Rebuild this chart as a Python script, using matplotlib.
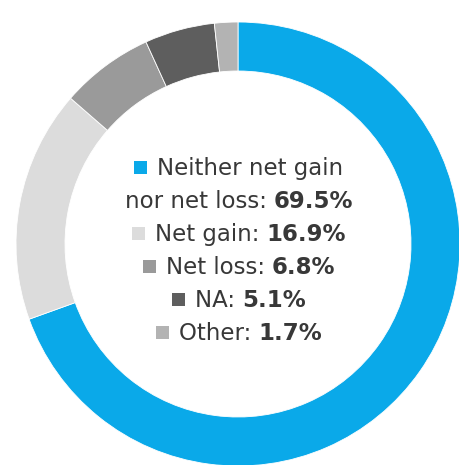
import matplotlib.pyplot as plt
from matplotlib.patches import Rectangle

labels = ["Neither net gain\nnor net loss", "Net gain", "Net loss", "NA", "Other"]
shares = [69.5, 16.9, 6.8, 5.1, 1.7]
colors = ["#0aa9e9", "#dcdcdc", "#9a9a9a", "#5e5e5e", "#b3b3b3"]

W, H = 460, 465
fig = plt.figure(figsize=(W / 100, H / 100), dpi=100)
ax = fig.add_axes([0, 0, 1, 1])

# ring, drawn in pixel units (y measured from the bottom)
cx, cy = 238, H - 244
R, ring = 222, 49
ax.pie(shares, colors=colors, startangle=90, counterclock=False,
       center=(cx, cy), radius=R,
       wedgeprops=dict(width=ring, edgecolor="white", linewidth=0.6))
ax.set_xlim(0, W)
ax.set_ylim(0, H)
ax.set_aspect("equal")
ax.axis("off")

FONT = ["DejaVu Sans"]
SIZE = 16.5
TEXT_COLOR = "#383838"
BOX = 13
GAP = 10

# build legend lines: (square colour or None, [(text, weight), ...])
rows = []
for label, share, color in zip(labels, shares, colors):
    parts = label.split("\n")
    for k, part in enumerate(parts):
        sq = color if k == 0 else None
        if k == len(parts) - 1:
            rows.append((sq, [(part + ": ", "normal"), (f"{share}%", "bold")]))
        else:
            rows.append((sq, [(part, "normal")]))

renderer = fig.canvas.get_renderer()
baseline = 175
for sq, pieces in rows:
    y = H - baseline
    texts = []
    for s, weight in pieces:
        t = ax.text(0, y, s, family=FONT, size=SIZE, weight=weight,
                    color=TEXT_COLOR, va="baseline", ha="left")
        texts.append(t)
    widths = [t.get_window_extent(renderer).width for t in texts]
    total = sum(widths) + (BOX + GAP if sq else 0)
    x = cx + 1 - total / 2
    if sq:
        ax.add_patch(Rectangle((x, y + 1), BOX, BOX, color=sq, lw=0))
        x += BOX + GAP
    for t, w in zip(texts, widths):
        t.set_x(x)
        x += w
    baseline += 33

fig.savefig("out.png", dpi=100)
